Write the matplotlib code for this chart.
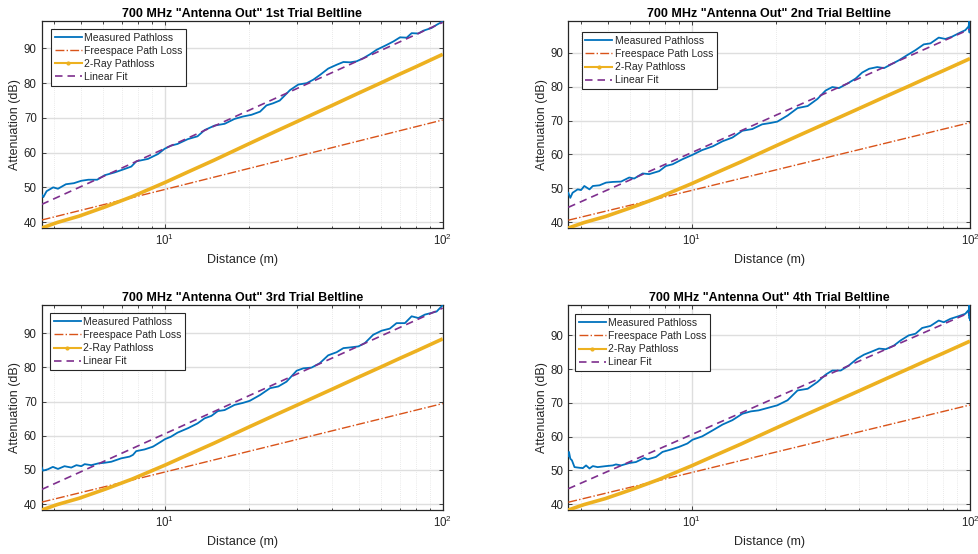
import matplotlib
matplotlib.use("Agg")
import matplotlib.pyplot as plt
from matplotlib.lines import Line2D
from matplotlib.ticker import LogLocator, NullFormatter, MultipleLocator

plt.rcParams['font.family'] = ['Liberation Sans', 'DejaVu Sans']
plt.rcParams['mathtext.fontset'] = 'custom'
plt.rcParams['mathtext.rm'] = 'Liberation Sans'
plt.rcParams['mathtext.it'] = 'Liberation Sans:italic'
plt.rcParams['mathtext.bf'] = 'Liberation Sans:bold'

# ---- data -------------------------------------------------------------
titles = [
    '700 MHz "Antenna Out" 1st Trial Beltline',
    '700 MHz "Antenna Out" 2nd Trial Beltline',
    '700 MHz "Antenna Out" 3rd Trial Beltline',
    '700 MHz "Antenna Out" 4th Trial Beltline',
]

# measured path loss per trial (distance in m, loss in dB)
d1 = [3.60, 3.65, 3.75, 3.96, 4.12, 4.40, 4.70, 5.00, 5.30, 5.70, 6.07, 6.59,
      7.16, 7.57, 7.89, 8.69, 9.44, 9.97, 10.5, 11.1, 12.1, 13.1, 13.9, 15.1,
      16.4, 17.8, 19.1, 20.5, 22.0, 23.2, 24.5, 25.9, 28.2, 30.2, 32.4, 34.2,
      36.2, 38.7, 41.5, 43.9, 46.4, 49.0, 51.8, 54.7, 57.8, 62.8, 66.4, 70.2,
      74.2, 77.3, 81.7, 85.1, 91.2, 95.1, 99.1, 100.0]
pl1 = [47.9, 47.2, 48.9, 50.0, 49.6, 50.9, 51.2, 51.9, 52.2, 52.2, 53.5, 54.3,
       55.3, 56.0, 57.5, 58.2, 59.6, 61.1, 62.0, 62.5, 63.9, 64.7, 66.5, 67.8,
       68.3, 69.7, 70.4, 70.9, 71.8, 73.6, 74.2, 75.0, 78.0, 79.6, 80.0, 81.0,
       82.4, 84.2, 85.3, 86.1, 86.0, 86.3, 87.2, 88.3, 89.6, 91.0, 92.0, 93.2,
       93.1, 94.4, 94.3, 95.1, 95.9, 96.8, 97.6, 97.9]

d2 = [3.60, 3.66, 3.73, 3.89, 4.00, 4.11, 4.29, 4.41, 4.66, 4.92, 5.20, 5.57,
      5.96, 6.21, 6.66, 7.03, 7.64, 8.07, 8.53, 9.26, 10.06, 10.9, 11.9, 12.9,
      14.0, 15.2, 16.5, 17.9, 19.2, 20.3, 22.1, 24.0, 26.1, 28.3, 30.3, 32.0,
      33.8, 36.2, 38.8, 41.0, 43.4, 46.4, 49.1, 51.8, 55.5, 59.4, 63.7, 68.2,
      72.1, 77.2, 81.6, 86.3, 92.3, 96.2, 98.9, 99.4, 99.6, 99.8, 100.0]
pl2 = [48.7, 47.2, 48.7, 49.7, 49.5, 50.7, 49.7, 50.7, 50.9, 51.7, 51.9, 52.0,
       53.2, 52.9, 54.4, 54.2, 55.1, 56.6, 57.1, 58.6, 59.9, 61.3, 62.4, 63.9,
       65.0, 67.0, 67.5, 68.9, 69.3, 69.7, 71.5, 73.7, 74.3, 76.4, 78.9, 79.9,
       79.6, 80.9, 82.4, 84.2, 85.3, 85.8, 85.5, 86.5, 87.8, 89.3, 90.8, 92.5,
       92.8, 94.5, 94.1, 94.8, 96.0, 96.7, 97.8, 99.4, 96.0, 98.8, 96.6]

d3 = [3.60, 3.64, 3.79, 3.95, 4.12, 4.35, 4.60, 4.80, 5.00, 5.14, 5.43, 5.74,
      6.06, 6.41, 6.96, 7.46, 7.67, 7.88, 8.45, 9.05, 9.70, 10.0, 10.5, 11.1,
      12.1, 13.1, 13.9, 14.7, 15.5, 16.4, 17.8, 19.1, 20.2, 22.0, 23.9, 25.6,
      27.4, 29.8, 31.5, 33.7, 36.1, 38.7, 41.5, 43.9, 46.4, 49.7, 52.5, 56.2,
      60.3, 64.5, 68.2, 73.1, 77.3, 81.7, 86.3, 91.2, 95.1, 99.1, 100.0]
pl3 = [50.7, 49.8, 50.2, 50.9, 50.3, 51.1, 50.7, 51.4, 51.1, 51.7, 51.4, 51.9,
       52.1, 52.4, 53.4, 53.9, 54.4, 55.5, 56.0, 56.8, 58.3, 59.0, 59.7, 60.9,
       62.2, 63.6, 65.1, 65.8, 67.2, 67.5, 69.0, 69.6, 70.2, 71.9, 73.9, 74.4,
       75.8, 79.0, 79.7, 79.9, 81.2, 83.5, 84.4, 85.6, 85.8, 86.1, 87.1, 89.5,
       90.7, 91.3, 92.9, 92.9, 94.9, 94.4, 95.4, 95.9, 96.3, 97.8, 98.2]

d4 = [3.60, 3.62, 3.66, 3.71, 3.79, 3.95, 4.06, 4.17, 4.29, 4.41, 4.59, 4.92,
      5.20, 5.34, 5.57, 5.96, 6.30, 6.75, 6.94, 7.43, 7.85, 8.41, 9.01, 9.65,
      10.06, 10.9, 11.9, 12.9, 14.0, 15.2, 16.3, 17.4, 18.7, 20.3, 22.1, 24.0,
      26.1, 28.3, 30.3, 32.0, 34.3, 36.7, 39.3, 41.6, 44.0, 47.1, 49.8, 53.3,
      56.3, 60.2, 63.7, 67.3, 72.1, 77.2, 80.5, 85.0, 91.1, 96.2, 98.5, 99.2,
      99.4, 99.6, 99.8, 100.0]
pl4 = [54.2, 55.5, 53.5, 53.0, 51.0, 50.8, 50.7, 51.5, 50.6, 51.3, 51.0, 51.3,
       51.5, 51.8, 51.5, 52.2, 52.5, 53.7, 53.3, 54.0, 55.5, 56.2, 57.0, 58.0,
       59.1, 60.1, 61.9, 63.6, 64.9, 66.8, 67.5, 67.8, 68.5, 69.3, 70.8, 73.7,
       74.2, 76.2, 78.4, 79.6, 79.6, 81.1, 83.1, 84.3, 85.1, 86.1, 85.9, 87.0,
       88.5, 90.0, 90.5, 92.2, 92.8, 94.4, 93.9, 94.9, 95.7, 96.4, 97.4, 96.0,
       99.0, 95.0, 98.0, 94.5]

# free-space model (same for every trial)
d_fs = [3.6, 10.0, 100.0]
pl_fs = [40.6, 49.4, 69.4]

# two-ray model (same for every trial)
d_2ray = [3.6, 4.1, 4.9, 6.1, 7.6, 10.0, 12.0, 15.0, 20.0, 25.0, 30.0, 40.0,
          50.0, 60.0, 70.0, 80.0, 90.0, 100.0]
pl_2ray = [38.3, 39.9, 41.7, 44.4, 47.3, 51.4, 54.3, 57.8, 62.5, 66.1, 69.0,
           73.6, 77.2, 80.1, 82.6, 84.7, 86.6, 88.3]

# linear fit end points per trial
d_fit = [3.6, 100.0]
fit1 = [45.1, 97.5]
fit2 = [44.4, 97.0]
fit3 = [44.3, 97.3]
fit4 = [44.6, 96.8]

measured = [(d1, pl1), (d2, pl2), (d3, pl3), (d4, pl4)]
fits = [fit1, fit2, fit3, fit4]

legend_labels = ['Measured Pathloss', 'Freespace Path Loss', '2-Ray Pathloss',
                 'Linear Fit']

# ---- styling ------------------------------------------------------------
C_BLUE = '#0072BD'
C_ORANGE = '#D95319'
C_YELLOW = '#EDB120'
C_PURPLE = '#7E2F8E'
C_AX = '#262626'

W, H = 979, 554
# axes boxes in pixels: left, top, right, bottom
boxes = [(41.7, 21, 442.7, 228), (568.3, 21, 970, 228),
         (41.7, 305, 442.7, 510), (568.3, 305, 970, 510)]
# legend offsets from the axes' upper-left corner in pixels
leg_off = [(9.3, 8), (13.4, 11.3), (8.3, 8.3), (6.7, 9.3)]

fig = plt.figure(figsize=(W / 100, H / 100), dpi=100)

for i in range(4):
    l, t, r, b = boxes[i]
    ax = fig.add_axes([l / W, 1 - b / H, (r - l) / W, (b - t) / H])
    dm, pm = measured[i]
    ax.plot(dm, pm, color=C_BLUE, lw=1.3, zorder=3)
    ax.plot(d_fs, pl_fs, color=C_ORANGE, lw=1.0, ls='-.', zorder=3)
    ax.plot(d_2ray, pl_2ray, color=C_YELLOW, lw=2.6, zorder=3,
            solid_capstyle='butt')
    ax.plot(d_fit, fits[i], color=C_PURPLE, lw=1.2, ls=(0, (4.5, 3)), zorder=4)

    ax.set_xscale('log')
    ax.set_xlim(min(dm + d_fs + d_2ray), 100.0)
    ymin = min(pm + pl_fs + pl_2ray + fits[i])
    ymax = max(pm + pl_fs + pl_2ray + fits[i])
    ax.set_ylim(ymin, ymax)

    ax.xaxis.set_major_locator(LogLocator(base=10))
    ax.xaxis.set_minor_locator(LogLocator(base=10, subs=range(2, 10)))
    ax.xaxis.set_minor_formatter(NullFormatter())
    ax.yaxis.set_major_locator(MultipleLocator(10))

    ax.set_axisbelow(True)
    ax.grid(True, which='major', color='#dedede', lw=1.0)
    ax.grid(True, which='minor', axis='x', color='#d6d6d6', lw=0.5,
            ls=(0, (1, 2)))

    ax.tick_params(which='both', direction='in', top=True, right=True,
                   colors=C_AX, labelsize=8.3, width=0.6)
    ax.tick_params(which='major', length=3)
    ax.tick_params(which='minor', length=1.8)
    for s in ax.spines.values():
        s.set_color(C_AX)
        s.set_linewidth(0.9)

    ax.set_xlabel('Distance (m)', fontsize=9, color=C_AX, labelpad=4)
    ax.set_ylabel('Attenuation (dB)', fontsize=9, color=C_AX, labelpad=2)
    ax.set_title(titles[i], fontsize=9, fontweight='bold', color='black',
                 pad=3)

    handles = [
        Line2D([], [], color=C_BLUE, lw=1.3),
        Line2D([], [], color=C_ORANGE, lw=1.0, ls='-.'),
        Line2D([], [], color=C_YELLOW, lw=1.5, marker='.', markersize=4),
        Line2D([], [], color=C_PURPLE, lw=1.2, ls=(0, (4.5, 3))),
    ]
    ox, oy = leg_off[i]
    leg = ax.legend(handles, legend_labels, loc='upper left',
                    bbox_to_anchor=(ox / (r - l), 1 - oy / (b - t)),
                    borderaxespad=0, fontsize=7.5, frameon=True,
                    fancybox=False, framealpha=1, edgecolor=C_AX,
                    borderpad=0.35, labelspacing=0.3, handlelength=2.6,
                    handletextpad=0.25)
    leg.get_frame().set_linewidth(0.8)
    for txt in leg.get_texts():
        txt.set_color(C_AX)

fig.savefig('out.png', dpi=100)
